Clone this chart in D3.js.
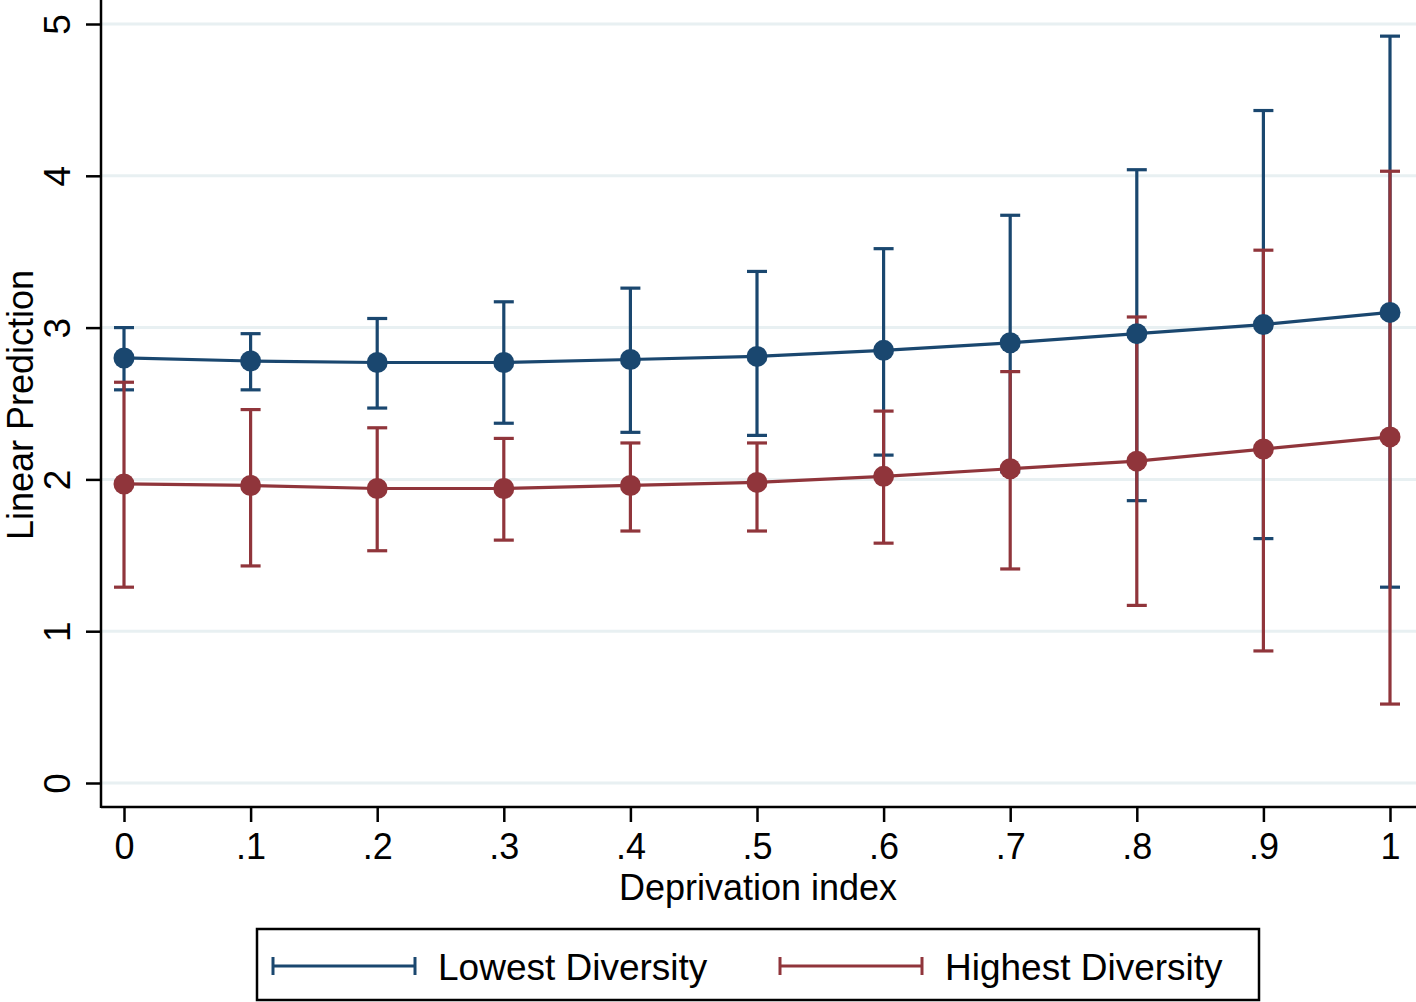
<!DOCTYPE html>
<html>
<head>
<meta charset="utf-8">
<script src="https://cdn.jsdelivr.net/npm/d3@7"></script>
<style>
  body { margin: 0; background: #fff; }
  text { font-family: "Liberation Sans", Arial, sans-serif; fill: #000; }
</style>
</head>
<body>
<div id="chart"></div>
<script>
var wid = 1416,
    heig = 1002;

// deprivation index values
var depIndex = [0, .1, .2, .3, .4, .5, .6, .7, .8, .9, 1];
var xTickLabels = ["0", ".1", ".2", ".3", ".4", ".5", ".6", ".7", ".8", ".9", "1"];
var yTicks = [0, 1, 2, 3, 4, 5];

// Lowest diversity
var lowPred  = [2.80, 2.78, 2.77, 2.77, 2.79, 2.81, 2.85, 2.90, 2.96, 3.02, 3.10];
var lowUpper = [3.00, 2.96, 3.06, 3.17, 3.26, 3.37, 3.52, 3.74, 4.04, 4.43, 4.92];
var lowLower = [2.59, 2.59, 2.47, 2.37, 2.31, 2.29, 2.16, 2.05, 1.86, 1.61, 1.29];

// Highest diversity
var highPred  = [1.97, 1.96, 1.94, 1.94, 1.96, 1.98, 2.02, 2.07, 2.12, 2.20, 2.28];
var highUpper = [2.64, 2.46, 2.34, 2.27, 2.24, 2.24, 2.45, 2.71, 3.07, 3.51, 4.03];
var highLower = [1.29, 1.43, 1.53, 1.60, 1.66, 1.66, 1.58, 1.41, 1.17, 0.87, 0.52];

var seriesNames = ["Lowest Diversity", "Highest Diversity"];
var seriesColors = ["#1a476f", "#90353b"];

var svg = d3.select("#chart").append("svg")
    .attr("width", wid)
    .attr("height", heig);

var xScale = d3.scaleLinear().domain([0, 1]).range([124, 1390]);
var yScale = d3.scaleLinear().domain([0, 5]).range([783, 24]);

var axisLeft = 101, axisBottom = 807;

//grid lines
svg.selectAll("line.grid")
    .data(yTicks)
  .enter().append("line")
    .attr("class", "grid")
    .attr("x1", axisLeft)
    .attr("x2", wid)
    .attr("y1", function(d) { return yScale(d); })
    .attr("y2", function(d) { return yScale(d); })
    .attr("stroke", "#e8f0f2")
    .attr("stroke-width", 3);

// y axis
var yAxis = d3.axisLeft(yScale).tickValues(yTicks).tickSize(15).tickFormat(d3.format("d"));
var gy = svg.append("g")
    .attr("transform", "translate(" + axisLeft + ",0)")
    .call(yAxis);
gy.select(".domain").remove();
gy.selectAll(".tick line").attr("stroke", "#000").attr("stroke-width", 2.5);
gy.selectAll(".tick text")
    .attr("x", null).attr("dy", null)
    .attr("transform", "translate(-31,0) rotate(-90)")
    .attr("text-anchor", "middle")
    .style("font-size", "37px")
    .style("font-family", "'Liberation Sans', Arial, sans-serif");
svg.append("line")
    .attr("x1", axisLeft).attr("x2", axisLeft)
    .attr("y1", 0).attr("y2", axisBottom + 1)
    .attr("stroke", "#000").attr("stroke-width", 2.5);

// x axis
var xAxis = d3.axisBottom(xScale).tickValues(depIndex).tickSize(15)
    .tickFormat(function(d, i) { return xTickLabels[i]; });
var gx = svg.append("g")
    .attr("transform", "translate(0," + axisBottom + ")")
    .call(xAxis);
gx.select(".domain").remove();
gx.selectAll(".tick line").attr("stroke", "#000").attr("stroke-width", 2.5);
gx.selectAll(".tick text")
    .attr("y", 52).attr("dy", null)
    .style("font-size", "36px")
    .style("font-family", "'Liberation Sans', Arial, sans-serif");
svg.append("line")
    .attr("x1", axisLeft).attr("x2", wid)
    .attr("y1", axisBottom).attr("y2", axisBottom)
    .attr("stroke", "#000").attr("stroke-width", 2.5);

// axis titles
svg.append("text")
    .attr("x", 758).attr("y", 900)
    .attr("text-anchor", "middle")
    .style("font-size", "36px")
    .text("Deprivation index");

svg.append("text")
    .attr("transform", "translate(33,405) rotate(-90)")
    .attr("text-anchor", "middle")
    .style("font-size", "36px")
    .text("Linear Prediction");

var series = [
  { pred: lowPred, upper: lowUpper, lower: lowLower, color: seriesColors[0] },
  { pred: highPred, upper: highUpper, lower: highLower, color: seriesColors[1] }
];

var capW = 10;

//error bars first, then lines and markers
series.forEach(function(s) {
  var g = svg.append("g").attr("class", "bars");
  g.selectAll("line.ci")
      .data(depIndex)
    .enter().append("line")
      .attr("x1", function(d) { return xScale(d); })
      .attr("x2", function(d) { return xScale(d); })
      .attr("y1", function(d, i) { return yScale(s.upper[i]); })
      .attr("y2", function(d, i) { return yScale(s.lower[i]); })
      .attr("stroke", s.color).attr("stroke-width", 3.2);
  g.selectAll("line.capU")
      .data(depIndex)
    .enter().append("line")
      .attr("x1", function(d) { return xScale(d) - capW; })
      .attr("x2", function(d) { return xScale(d) + capW; })
      .attr("y1", function(d, i) { return yScale(s.upper[i]); })
      .attr("y2", function(d, i) { return yScale(s.upper[i]); })
      .attr("stroke", s.color).attr("stroke-width", 3.2);
  g.selectAll("line.capL")
      .data(depIndex)
    .enter().append("line")
      .attr("x1", function(d) { return xScale(d) - capW; })
      .attr("x2", function(d) { return xScale(d) + capW; })
      .attr("y1", function(d, i) { return yScale(s.lower[i]); })
      .attr("y2", function(d, i) { return yScale(s.lower[i]); })
      .attr("stroke", s.color).attr("stroke-width", 3.2);
});

series.forEach(function(s) {
  var line = d3.line()
      .x(function(d) { return xScale(d); })
      .y(function(d, i) { return yScale(s.pred[i]); });
  svg.append("path")
      .datum(depIndex)
      .attr("d", line)
      .attr("fill", "none")
      .attr("stroke", s.color)
      .attr("stroke-width", 3.2);
  svg.selectAll(null)
      .data(depIndex)
    .enter().append("circle")
      .attr("cx", function(d) { return xScale(d); })
      .attr("cy", function(d, i) { return yScale(s.pred[i]); })
      .attr("r", 10.5)
      .attr("fill", s.color);
});

// legend
var legend = svg.append("g").attr("class", "legend");
legend.append("rect")
    .attr("x", 257).attr("y", 929)
    .attr("width", 1002).attr("height", 71)
    .attr("fill", "#fff")
    .attr("stroke", "#000")
    .attr("stroke-width", 2.5);

var legX = [273, 780];
seriesNames.forEach(function(name, i) {
  var lg = legend.append("g").attr("transform", "translate(" + legX[i] + ",966)");
  lg.append("line").attr("x1", 0).attr("x2", 142).attr("y1", 0).attr("y2", 0)
    .attr("stroke", seriesColors[i]).attr("stroke-width", 3);
  lg.append("line").attr("x1", 0).attr("x2", 0).attr("y1", -9).attr("y2", 9)
    .attr("stroke", seriesColors[i]).attr("stroke-width", 3);
  lg.append("line").attr("x1", 142).attr("x2", 142).attr("y1", -9).attr("y2", 9)
    .attr("stroke", seriesColors[i]).attr("stroke-width", 3);
  lg.append("text")
    .attr("x", 165).attr("y", 14)
    .style("font-size", "37px")
    .text(name);
});
</script>
</body>
</html>
